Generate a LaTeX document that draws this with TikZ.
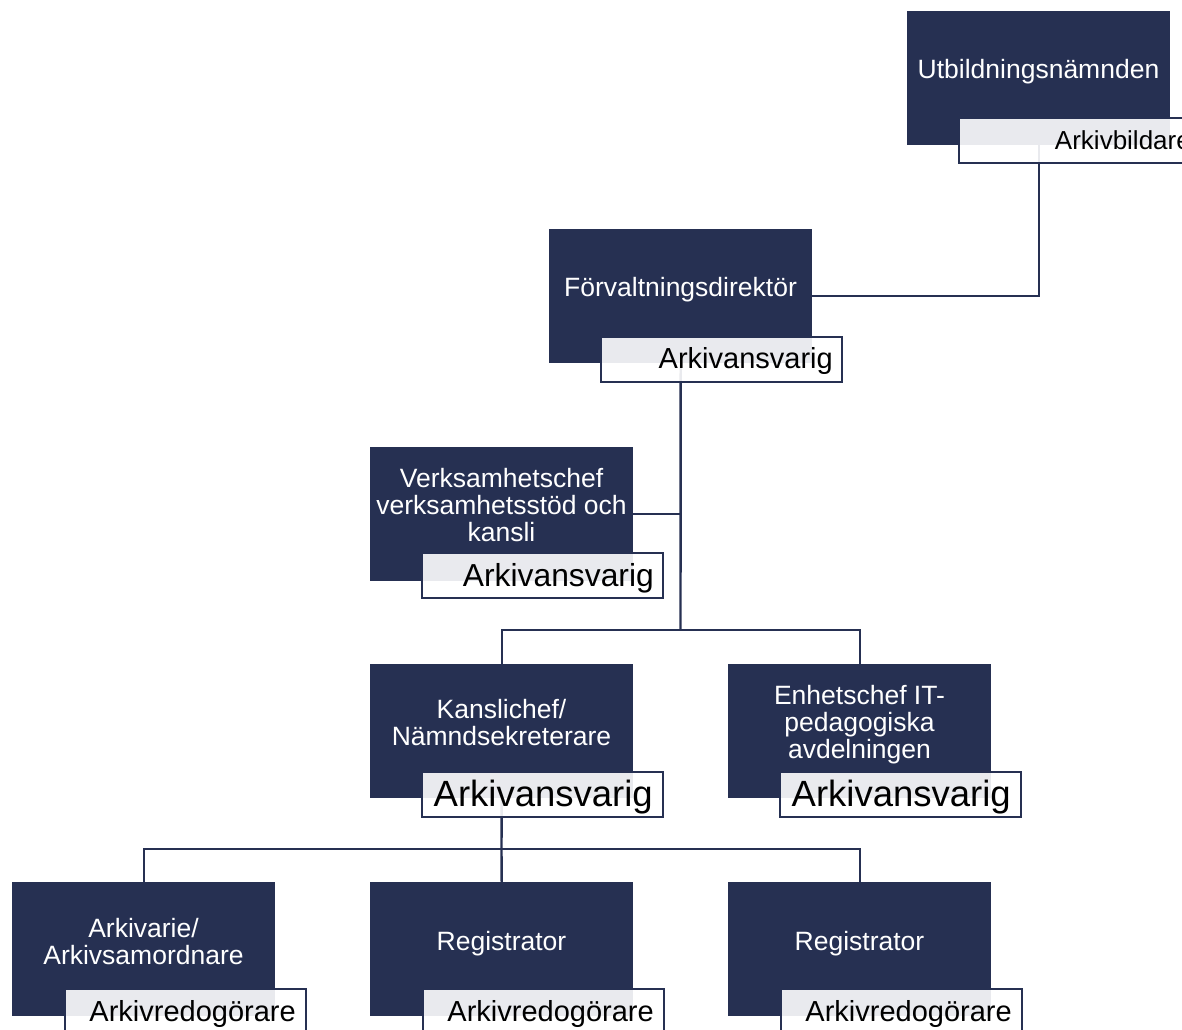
\documentclass[tikz,border=0pt]{standalone}
\usepackage{fontspec}
\setmainfont{Liberation Sans}
\definecolor{navy}{RGB}{38,48,82}
\begin{document}
\begin{tikzpicture}[x=1bp,y=-1bp,
  unitbox/.style={fill=navy, minimum width=263bp, minimum height=134bp,
    inner sep=0, anchor=north west},
  rolebox/.style={draw=navy, line width=2bp, fill=white, fill opacity=0.9,
    minimum width=241bp, minimum height=45bp, inner sep=0, anchor=north west},
  unittext/.style={text=white, align=center, inner sep=0, anchor=center,
    font=\fontsize{26.5bp}{27bp}\selectfont},
  roletext/.style={text=black, inner sep=0, anchor=base east},
  link/.style={draw=navy, line width=2.4bp}
]
\useasboundingbox (0,0) rectangle (1182,1030);
\clip (0,0) rectangle (1182,1030);

% organisational units
\node[unitbox] (U)  at (907,11)  {};
\node[unitbox] (F)  at (549,229) {};
\node[unitbox] (V)  at (370,447) {};
\node[unitbox] (K)  at (370,664) {};
\node[unitbox] (E)  at (728,664) {};
\node[unitbox] (A)  at (12,882)  {};
\node[unitbox] (R1) at (370,882) {};
\node[unitbox] (R2) at (728,882) {};

% connectors
\coordinate (b1) at (680.5,630);
\coordinate (b2) at (501.5,849);
\draw[link] (U.south) |- (F.east);
\draw[link] (F.south) -- (b1);
\draw[link] (V.east) -- (V.east -| b1);
\draw[link] (K.north) |- (b1) -| (E.north);
\draw[link] (K.south) -- (b2);
\draw[link] (A.north) |- (b2) -| (R2.north);
\draw[link] (R1.north) -- (b2);

% unit titles
\node[unittext] (tU)  at (1038.5,72) {Utbildningsnämnden};
\node[unittext] (tF)  at (680.5,290) {Förvaltningsdirektör};
\node[unittext] (tV)  at (501.5,505) {Verksamhetschef\\verksamhetsstöd och\\kansli};
\node[unittext] (tK)  at (501.5,723) {Kanslichef/\\Nämndsekreterare};
\node[unittext] (tE)  at (859.5,725) {Enhetschef IT-\\pedagogiska\\avdelningen};
\node[unittext] (tA)  at (143.5,942) {Arkivarie/\\Arkivsamordnare};
\node[unittext] (tR1) at (501.5,944) {Registrator};
\node[unittext] (tR2) at (859.5,944) {Registrator};

% role tags
\node[rolebox] (rU)  at (958,117)  {};
\node[rolebox] (rF)  at (600,336)  {};
\node[rolebox] (rV)  at (421,552)  {};
\node[rolebox] (rK)  at (421,771)  {};
\node[rolebox] (rE)  at (779,771)  {};
\node[rolebox] (rA)  at (64,988)   {};
\node[rolebox] (rR1) at (422,988)  {};
\node[rolebox] (rR2) at (780,988)  {};

\node[roletext, font=\fontsize{26bp}{28bp}\selectfont]   (lU)  at (1191,149) {Arkivbildare};
\node[roletext, font=\fontsize{29bp}{31bp}\selectfont]   (lF)  at (833,368)  {Arkivansvarig};
\node[roletext, font=\fontsize{31.8bp}{34bp}\selectfont] (lV)  at (654,586)  {Arkivansvarig};
\node[roletext, font=\fontsize{36.5bp}{38bp}\selectfont] (lK)  at (653,806)  {Arkivansvarig};
\node[roletext, font=\fontsize{36.5bp}{38bp}\selectfont] (lE)  at (1011,806) {Arkivansvarig};
\node[roletext, font=\fontsize{29bp}{31bp}\selectfont]   (lA)  at (296,1021) {Arkivredogörare};
\node[roletext, font=\fontsize{29bp}{31bp}\selectfont]   (lR1) at (654,1021) {Arkivredogörare};
\node[roletext, font=\fontsize{29bp}{31bp}\selectfont]   (lR2) at (1012,1021) {Arkivredogörare};
\end{tikzpicture}
\end{document}
